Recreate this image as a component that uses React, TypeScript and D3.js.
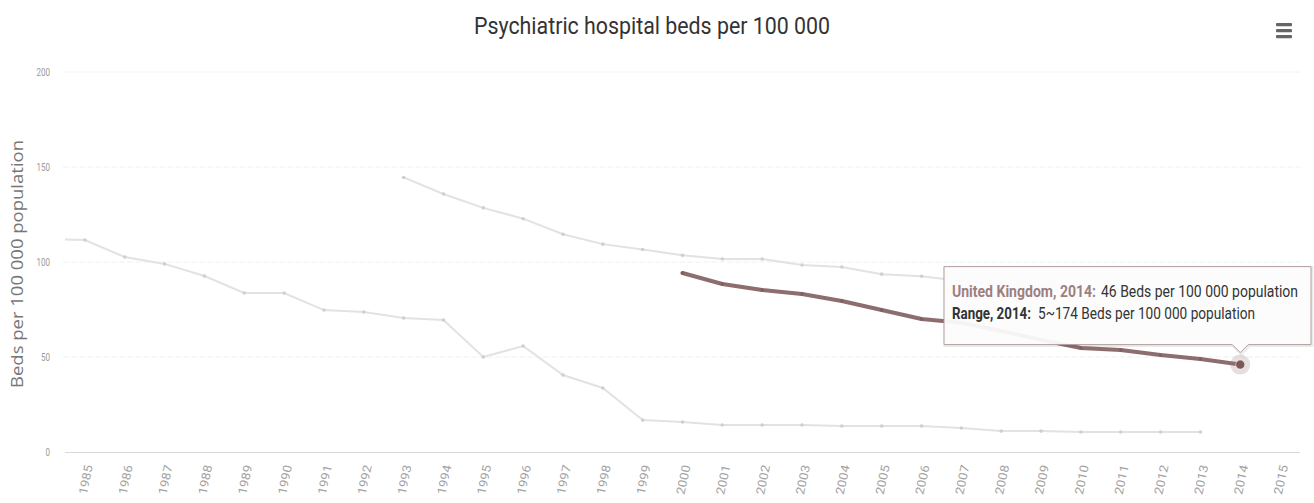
import React, { useEffect } from "react";
import * as d3 from "d3";

const categories = [1985,1986,1987,1988,1989,1990,1991,1992,1993,1994,1995,1996,1997,1998,1999,2000,2001,2002,2003,2004,2005,2006,2007,2008,2009,2010,2011,2012,2013,2014,2015];
const yTicks = [0, 50, 100, 150, 200];

const lowerYears = [1984,1985,1986,1987,1988,1989,1990,1991,1992,1993,1994,1995,1996,1997,1998,1999,2000,2001,2002,2003,2004,2005,2006,2007,2008,2009,2010,2011,2012,2013];
const lowerValues = [112,111.6,102.6,99,92.6,83.7,83.7,74.7,73.7,70.5,69.5,50,55.8,40.5,33.7,16.8,15.8,14.2,14.2,14.2,13.7,13.7,13.7,12.6,11,11,10.5,10.5,10.5,10.5];

const upperYears = [1993,1994,1995,1996,1997,1998,1999,2000,2001,2002,2003,2004,2005,2006,2007,2008,2009,2010,2011,2012,2013];
const upperValues = [144.5,135.8,128.5,122.8,114.6,109.4,106.6,103.5,101.6,101.6,98.4,97.4,93.6,92.5,90,88,87,86,85,84,83];

const ukYears = [2000,2001,2002,2003,2004,2005,2006,2007,2008,2009,2010,2011,2012,2013,2014];
const ukValues = [94.2,88.4,85.3,83.2,79.5,74.7,70,68,63.7,59,54.7,53.7,51,49,46];

const title = "Psychiatric hospital beds per 100 000";
const yTitle = "Beds per 100 000 population";
const tipSeries = "United Kingdom, 2014:";
const tipValue = "46 Beds per 100 000 population";
const tipRangeLabel = "Range, 2014:";
const tipRange = "5~174 Beds per 100 000 population";

const W = 1314, H = 503;
const plotL = 65, plotR = 1300, plotT = 72, plotB = 452;
const font = "Roboto, 'Noto Sans', sans-serif";

export default function App() {
  useEffect(() => { document.body.style.margin = "0"; }, []);
  const x = d3.scaleLinear().domain([1984.5, 2015.5]).range([plotL, plotR]);
  const y = d3.scaleLinear().domain([0, 200]).range([plotB, plotT]);
  const line = d3.line<[number, number]>().x(d => x(d[0])).y(d => y(d[1]));
  const lower: [number, number][] = lowerYears.map((yr, i) => [yr, lowerValues[i]]);
  const upper: [number, number][] = upperYears.map((yr, i) => [yr, upperValues[i]]);
  const uk: [number, number][] = ukYears.map((yr, i) => [yr, ukValues[i]]);
  const hx = x(2014), hy = y(46);
  const tipB = hy - 20, tipT = tipB - 78, tipL = 944, tipR = 1311;
  return (
    <svg width={W} height={H} style={{ display: "block", background: "#fff" }}>
      <defs>
        <clipPath id="plot"><rect x={plotL} y={0} width={plotR - plotL} height={plotB + 10} /></clipPath>
      </defs>
      <text x={474} y={34} fontFamily={font} fontSize={24} fill="#333" textLength={356} lengthAdjust="spacingAndGlyphs">{title}</text>
      <g fill="#666">
        {[0, 1, 2].map(i => <rect key={i} x={1276} y={23 + i * 6} width={16} height={3.2} rx={1} />)}
      </g>
      {yTicks.map(t => (
        <g key={t}>
          {t > 0 && <line x1={plotL - 2} x2={plotR} y1={y(t)} y2={y(t)} stroke="#f0f0f0" strokeWidth={1} strokeDasharray="6,2" />}
          <text x={50} y={y(t) + 4} textAnchor="end" fontFamily={font} fontSize={10.5} fill="#999"
            textLength={String(t).length * 4.5} lengthAdjust="spacingAndGlyphs">{t}</text>
        </g>
      ))}
      <line x1={plotL} x2={plotR} y1={plotB + 0.5} y2={plotB + 0.5} stroke="#d8d8d8" strokeWidth={1} />
      <text transform={`translate(23,${(plotT + plotB) / 2 + 2}) rotate(-90)`} textAnchor="middle" fontFamily="'Open Sans', sans-serif" fontSize={16} fill="#777" textLength={248} lengthAdjust="spacingAndGlyphs">{yTitle}</text>
      {categories.map(c => (
        <text key={c} transform={`translate(${x(c) + 8},${plotB + 14}) rotate(-78)`} textAnchor="end" fontFamily={font} fontSize={12} fill="#a3a3a3" textLength={30} lengthAdjust="spacingAndGlyphs">{c}</text>
      ))}
      <g clipPath="url(#plot)">
        {[lower, upper].map((s, k) => (
          <g key={k}>
            <path d={line(s) || ""} fill="none" stroke="#e2e2e2" strokeWidth={2} />
            {s.map((d, i) => <circle key={i} cx={x(d[0])} cy={y(d[1])} r={1.8} fill="#cfcfcf" />)}
          </g>
        ))}
        <path d={line(uk) || ""} fill="none" stroke="#8d6d6d" strokeWidth={4} strokeLinejoin="round" strokeLinecap="round" />
        {uk.map((d, i) => <circle key={i} cx={x(d[0])} cy={y(d[1])} r={1.8} fill="#7f5f5f" />)}
        <circle cx={hx} cy={hy} r={10} fill="#8d6d6d" fillOpacity={0.22} />
        <circle cx={hx} cy={hy} r={4.5} fill="#7a5858" stroke="#fff" strokeWidth={0.5} />
      </g>
      <g>
        <path d={`M${tipL + 1},${tipT + 1}H${tipR + 1}V${tipB + 1}H${hx + 9}L${hx + 1},${tipB + 9}L${hx - 7},${tipB + 1}H${tipL + 1}Z`} fill="none" stroke="#000" strokeOpacity={0.08} strokeWidth={3} />
        <path d={`M${tipL},${tipT}H${tipR}V${tipB}H${hx + 8}L${hx},${tipB + 8}L${hx - 8},${tipB}H${tipL}Z`} fill="#fcfcfc" fillOpacity={0.94} stroke="#b39f9f" strokeWidth={1} />
        <text x={952} y={tipT + 30} fontFamily={font} fontSize={16} fontWeight="bold" fill="#9c8080" textLength={144} lengthAdjust="spacingAndGlyphs">{tipSeries}</text>
        <text x={1101} y={tipT + 30} fontFamily={font} fontSize={16} fill="#333" textLength={197} lengthAdjust="spacingAndGlyphs">{tipValue}</text>
        <text x={952} y={tipT + 52} fontFamily={font} fontSize={16} fontWeight="bold" fill="#333" textLength={79} lengthAdjust="spacingAndGlyphs">{tipRangeLabel}</text>
        <text x={1038} y={tipT + 52} fontFamily={font} fontSize={16} fill="#333" textLength={217} lengthAdjust="spacingAndGlyphs">{tipRange}</text>
      </g>
    </svg>
  );
}
